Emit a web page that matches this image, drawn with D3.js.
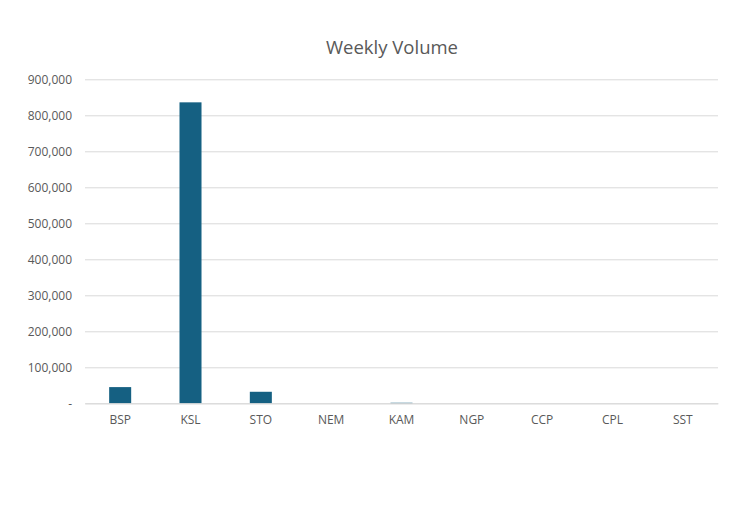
<!DOCTYPE html>
<html><head><meta charset="utf-8">
<script src="https://cdn.jsdelivr.net/npm/d3@7"></script>
<style>
html,body{margin:0;padding:0;background:#fff;}
svg{display:block;}
</style></head>
<body>
<script>
const categories = ["BSP","KSL","STO","NEM","KAM","NGP","CCP","CPL","SST"];
const volumes = [45000, 836000, 32000, 0, 1500, 0, 0, 0, 0];
const yTicks = [0,100000,200000,300000,400000,500000,600000,700000,800000,900000];
const title = "Weekly Volume";

const W = 738, H = 517;
const m = {left:85, right:20, top:79.3, bottom:113.7};
const svg = d3.select("body").append("svg").attr("width",W).attr("height",H);

const x = d3.scaleBand().domain(categories).range([m.left, W-m.right]).paddingInner(0.687).paddingOuter(0.3435);
const y = d3.scaleLinear().domain([0,900000]).range([H-m.bottom, m.top]);

const fmt = v => v===0 ? "-" : d3.format(",")(v);

const yAxis = svg.append("g").attr("transform",`translate(${m.left},0)`)
  .call(d3.axisLeft(y).tickValues(yTicks).tickFormat(fmt).tickSize(-(W-m.left-m.right)).tickPadding(13));
yAxis.select(".domain").remove();
yAxis.selectAll(".tick line").attr("stroke","#d9d9d9").attr("stroke-width",1);
yAxis.selectAll(".tick text").attr("fill","#595959").style("font-family","'Open Sans', 'Noto Sans', sans-serif").style("font-size","12px");

svg.append("g").selectAll("rect").data(categories.map((c,i)=>({c,v:volumes[i]}))).join("rect")
  .attr("x",d=>x(d.c)).attr("width",x.bandwidth())
  .attr("y",d=>y(d.v)).attr("height",d=>y(0)-y(d.v))
  .attr("fill","#156082");

const xAxis = svg.append("g").attr("transform",`translate(0,${y(0)})`)
  .call(d3.axisBottom(x).tickSize(0).tickPadding(12));
xAxis.select(".domain").attr("stroke","#d9d9d9");
xAxis.selectAll(".tick text").attr("fill","#595959").style("font-family","'Open Sans', 'Noto Sans', sans-serif").style("font-size","12px");

svg.append("text").attr("x",392).attr("y",54).attr("text-anchor","middle")
  .attr("fill","#595959").style("font-family","'Open Sans', 'Noto Sans', sans-serif").style("font-size","18.5px")
  .text(title);
</script>
</body></html>
